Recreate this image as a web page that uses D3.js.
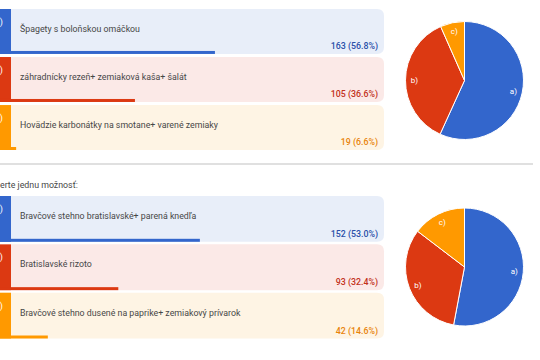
<!DOCTYPE html>
<html><head><meta charset="utf-8">
<script src="https://cdn.jsdelivr.net/npm/d3@7"></script>
<style>body{margin:0;background:#fff}svg{display:block}</style>
</head><body>
<svg id="c" width="540" height="360"></svg>
<script>
const keys = ["a)", "b)", "c)"];
const q1Labels = ["Špagety s boloňskou omáčkou", "záhradnícky rezeň+ zemiaková kaša+ šalát", "Hovädzie karbonátky na smotane+ varené zemiaky"];
const q1Counts = [163, 105, 19];
const q1Pct = [56.8, 36.6, 6.6];
const q2Labels = ["Bravčové stehno bratislavské+ parená knedľa", "Bratislavské rizoto", "Bravčové stehno dusené na paprike+ zemiakový prívarok"];
const q2Counts = [152, 93, 42];
const q2Pct = [53.0, 32.4, 14.6];
const prompt2 = "erte jednu možnosť:";

const colors = ["#3366cc", "#dc3912", "#ff9900"];
const lightBg = ["#e8eef9", "#fbe9e7", "#fef4e4"];
const textCol = ["#2a4fa8", "#c2311a", "#e8830a"];

const svg = d3.select("#c");
const font = "Roboto, Arial, sans-serif";
const fs = 8.8;

function section(labels, counts, pcts, top, rowH, pitch, pieCy) {
  const g = svg.append("g");
  const x = d3.scaleLinear().domain([0, 100]).range([-10, 386]);
  const y = d3.scaleBand().domain(d3.range(labels.length)).range([top, top + pitch * labels.length]).paddingInner((pitch - rowH) / pitch).paddingOuter(0).align(0);
  const rows = g.selectAll("g.row").data(labels).join("g").attr("class", "row");
  rows.append("path")
    .attr("fill", (d, i) => lightBg[i])
    .attr("d", (d, i) => {
      const x0 = 11, x1 = 384, y0 = y(i), y1 = y(i) + y.bandwidth(), r = 7;
      return `M${x0},${y0}H${x1 - r}Q${x1},${y0} ${x1},${y0 + r}V${y1 - r}Q${x1},${y1} ${x1 - r},${y1}H${x0}Z`;
    });
  rows.append("rect").attr("x", -30).attr("width", 41)
    .attr("y", (d, i) => y(i)).attr("height", y.bandwidth())
    .attr("fill", (d, i) => colors[i]);
  rows.append("text").attr("x", 3).attr("y", (d, i) => y(i) + 16)
    .attr("text-anchor", "end").attr("fill", "#fff").attr("font-family", font).attr("font-size", 9)
    .text((d, i) => keys[i]);
  rows.append("rect").attr("x", x(0))
    .attr("width", (d, i) => x(pcts[i]) - x(0))
    .attr("y", (d, i) => y(i) + y.bandwidth() - 3).attr("height", 3)
    .attr("fill", (d, i) => colors[i]);
  rows.append("text").attr("x", 20).attr("y", (d, i) => y(i) + 23)
    .attr("fill", "#474747").attr("font-family", font).attr("font-size", fs)
    .text(d => d);
  rows.append("text").attr("x", 378).attr("y", (d, i) => y(i) + y.bandwidth() - 5)
    .attr("text-anchor", "end").attr("fill", (d, i) => textCol[i]).attr("font-family", font)
    .attr("font-size", fs).attr("font-weight", 500)
    .text((d, i) => `${counts[i]} (${pcts[i].toFixed(1)}%)`);

  const R = 59;
  const pie = d3.pie().sort(null).value(d => d)(counts);
  const arc = d3.arc().innerRadius(0).outerRadius(R);
  const lab = d3.arc().innerRadius(50).outerRadius(50);
  const pg = g.append("g").attr("transform", `translate(464.5,${pieCy})`);
  pg.selectAll("path").data(pie).join("path")
    .attr("d", arc).attr("fill", (d, i) => colors[i]).attr("stroke", "#fff").attr("stroke-width", 1);
  pg.selectAll("text").data(pie).join("text")
    .attr("transform", d => `translate(${lab.centroid(d)})`)
    .attr("text-anchor", "middle").attr("dy", "0.35em")
    .attr("fill", "#fff").attr("font-family", font).attr("font-size", 8)
    .text((d, i) => keys[i]);
}

section(q1Labels, q1Counts, q1Pct, 9, 44, 47, 80.5);

svg.append("rect").attr("x", 0).attr("y", 163).attr("width", 533).attr("height", 2).attr("fill", "#e0e0e0");
svg.append("text").attr("x", 0).attr("y", 188).attr("fill", "#474747").attr("font-family", font).attr("font-size", fs).text(prompt2);

section(q2Labels, q2Counts, q2Pct, 196, 45, 47.5, 267);
</script>
</body></html>
